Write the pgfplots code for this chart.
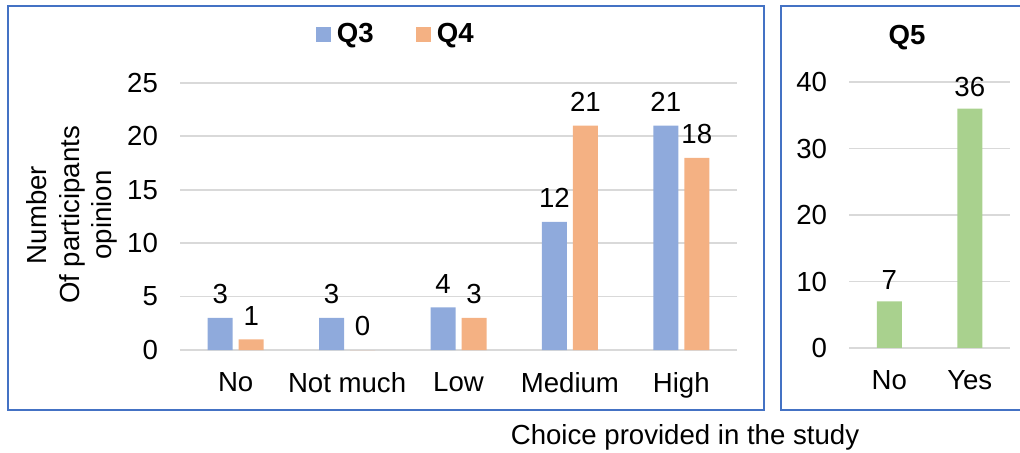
\documentclass[border=0pt]{standalone}
\usepackage{fontspec}
\setmainfont{Liberation Sans}
\usepackage{pgfplots}
\pgfplotsset{compat=1.18}
\definecolor{qthree}{HTML}{8FAADC}
\definecolor{qfour}{HTML}{F4B183}
\definecolor{qfive}{HTML}{A9D18E}
\definecolor{boxblue}{HTML}{4472C4}
\definecolor{gridgray}{HTML}{D9D9D9}
\newcommand{\chartfont}{\fontsize{13.8}{16.25}\selectfont}
\pgfplotsset{
  common/.style={
    scale only axis,
    anchor=south west,
    axis line style={draw=none},
    major tick length=0pt,
    ymajorgrids,
    grid style={gridgray, line width=0.9pt},
    ymin=0,
    /pgf/number format/assume math mode=true,
    tick label style={font=\chartfont},
    yticklabel style={xshift=-7.5pt},
    xticklabel style={yshift=-7.9pt},
    ybar=3pt,
    bar width=12.5pt,
    nodes near coords,
    nodes near coords style={font=\chartfont, anchor=south, /pgf/number format/assume math mode=true},
  }
}
\begin{document}
\begin{tikzpicture}
\useasboundingbox (0,0) rectangle (510pt,-226.5pt);
\draw[boxblue, line width=1pt] (4pt,-3pt) rectangle (382pt,-205pt);
\draw[boxblue, line width=1pt] (390.5pt,-3pt) rectangle (513pt,-205pt);
\begin{axis}[common,
  at={(90pt,-175pt)},
  width=278.5pt, height=133.5pt,
  ymax=25, ytick={0,5,...,25},
  xmin=-0.5, xmax=4.5, xtick={0,...,4},
  xticklabels={No,Not much,Low,Medium,High},
  nodes near coords style={yshift=3.4pt},
  legend style={draw=none, at={(0.391,1.183)}, anchor=center,
    font=\chartfont\bfseries, legend columns=2,
    /tikz/every even column/.append style={column sep=18pt},
    nodes={inner xsep=3pt},
    inner sep=0pt, row sep=0pt},
  legend image code/.code={\fill[#1] (0pt,-3.75pt) rectangle (7.5pt,3.75pt);},
]
\addplot[fill=qthree, draw=none] coordinates {(0,3) (1,3) (2,4) (3,12) (4,21)};
\addlegendentry{Q3}
\addplot[fill=qfour, draw=none] coordinates {(0,1) (1,0) (2,3) (3,21) (4,18)};
\addlegendentry{Q4}
\end{axis}
\begin{axis}[common,
  at={(424.5pt,-174pt)},
  width=80.5pt, height=133pt,
  ymax=40, ytick={0,10,...,40},
  xmin=-0.5, xmax=1.5, xtick={0,1},
  xticklabels={No,Yes},
  nodes near coords style={yshift=2.2pt},
]
\addplot[fill=qfive, draw=none] coordinates {(0,7) (1,36)};
\end{axis}
\node[font=\chartfont\bfseries] at (453.5pt,-19pt) {Q5};
\node[rotate=90, align=center, font=\chartfont] at (36pt,-107.5pt) {Number\\Of participants\\opinion};
\node[font=\chartfont] at (342.5pt,-218.5pt) {Choice provided in the study};
\end{tikzpicture}
\end{document}
